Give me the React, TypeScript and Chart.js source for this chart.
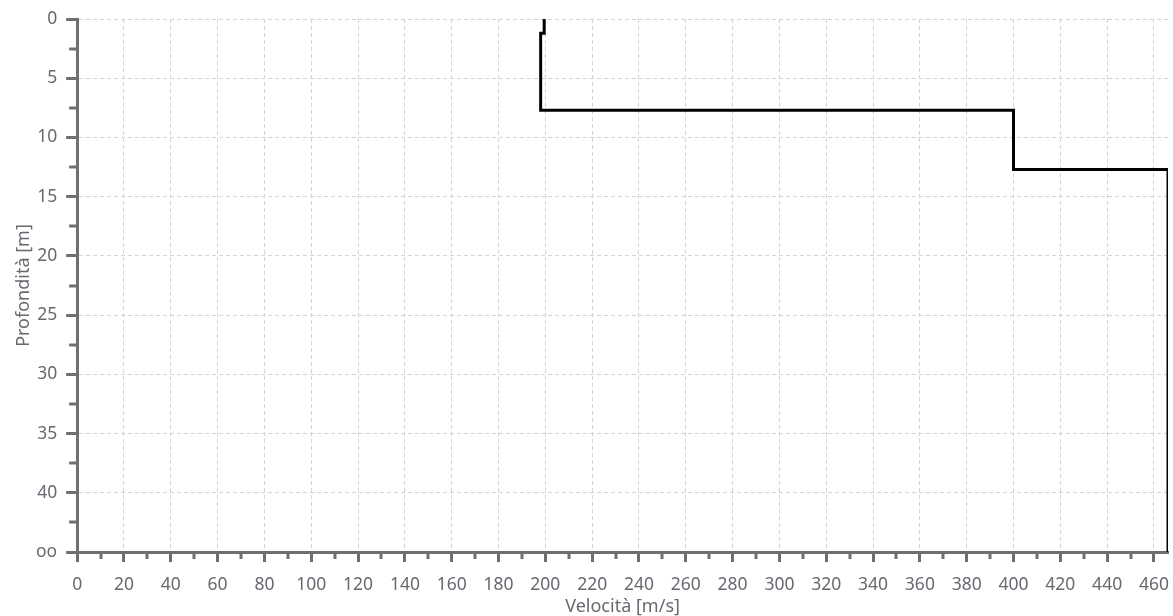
import React, { useEffect, useRef } from "react";
import { Chart, registerables } from "chart.js";

Chart.register(...registerables);

// Data
const velocity = [199.5, 199.5, 198, 198, 400, 400, 466, 466];
const depth = [0, 1.2, 1.2, 7.7, 7.7, 12.7, 12.7, 45];

// Tick values and labels
const xTickValues = [0, 20, 40, 60, 80, 100, 120, 140, 160, 180, 200, 220, 240, 260, 280, 300, 320, 340, 360, 380, 400, 420, 440, 460];
const xMinorTicks = [10, 30, 50, 70, 90, 110, 130, 150, 170, 190, 210, 230, 250, 270, 290, 310, 330, 350, 370, 390, 410, 430, 450];
const yTickValues = [0, 5, 10, 15, 20, 25, 30, 35, 40, 45];
const yTickLabels = ["0", "5", "10", "15", "20", "25", "30", "35", "40", "oo"];
const yMinorTicks = [2.5, 7.5, 12.5, 17.5, 22.5, 27.5, 32.5, 37.5, 42.5];

const X_MIN = 0;
const X_MAX = 466;
const Y_MIN = 0;
const Y_MAX = 45;

const AXIS_COLOR = "#6f6f6f";
const GRID_COLOR = "#d4d4d4";
const TEXT_COLOR = "#666a70";
const FONT = "'Noto Sans', sans-serif";

const minorTicksPlugin = {
  id: "minorTicks",
  afterDraw(chart: any) {
    const { ctx, scales, chartArea } = chart;
    const xs = scales.x;
    const ys = scales.y;
    ctx.save();
    ctx.strokeStyle = AXIS_COLOR;
    ctx.lineWidth = 3;
    ctx.beginPath();
    for (const v of xMinorTicks) {
      const px = Math.round(xs.getPixelForValue(v));
      ctx.moveTo(px, chartArea.bottom);
      ctx.lineTo(px, chartArea.bottom + 7);
    }
    for (const v of yMinorTicks) {
      const py = Math.round(ys.getPixelForValue(v));
      ctx.moveTo(chartArea.left, py);
      ctx.lineTo(chartArea.left - 8, py);
    }
    ctx.stroke();
    ctx.restore();
  },
};

export default function App() {
  const canvasRef = useRef<HTMLCanvasElement | null>(null);

  useEffect(() => {
    document.body.style.margin = "0";
    const canvas = canvasRef.current;
    if (!canvas) return;
    const points = velocity.map((v, i) => ({ x: v, y: depth[i] }));
    const chart = new Chart(canvas, {
      type: "scatter",
      data: {
        datasets: [
          {
            data: points,
            showLine: true,
            borderColor: "#000000",
            borderWidth: 3,
            pointRadius: 0,
            pointHoverRadius: 0,
            fill: false,
            tension: 0,
          },
        ],
      },
      options: {
        animation: false,
        responsive: false,
        maintainAspectRatio: false,
        layout: { autoPadding: false, padding: { left: 0, top: 19, right: 5, bottom: 0 } },
        plugins: {
          legend: { display: false },
          tooltip: { enabled: false },
          title: { display: false },
        },
        scales: {
          x: {
            type: "linear",
            min: X_MIN,
            max: X_MAX,
            afterBuildTicks: (scale: any) => {
              scale.ticks = xTickValues.map((v) => ({ value: v }));
            },
            afterFit: (scale: any) => {
              scale.height = 64;
              scale.paddingLeft = 0;
              scale.paddingRight = 0;
            },
            ticks: {
              autoSkip: false,
              maxRotation: 0,
              color: TEXT_COLOR,
              font: { family: FONT, size: 17.5 },
              padding: 13,
              callback: (v: any) => String(v),
            },
            grid: {
              color: GRID_COLOR,
              lineWidth: 1,
              tickLength: 10,
              tickColor: AXIS_COLOR,
              tickWidth: 3,
              drawTicks: true,
            },
            border: { display: true, color: AXIS_COLOR, width: 3, dash: [4, 3] },
            title: {
              display: true,
              text: "Velocità [m/s]",
              color: TEXT_COLOR,
              font: { family: FONT, size: 18, lineHeight: 1 },
              padding: { top: 0, bottom: 0 },
            },
          },
          y: {
            type: "linear",
            reverse: true,
            min: Y_MIN,
            max: Y_MAX,
            afterBuildTicks: (scale: any) => {
              scale.ticks = yTickValues.map((v) => ({ value: v }));
            },
            afterFit: (scale: any) => {
              scale.paddingTop = 0;
              scale.paddingBottom = 0;
            },
            ticks: {
              autoSkip: false,
              color: TEXT_COLOR,
              font: { family: FONT, size: 17.5 },
              padding: 9,
              callback: (v: any) => {
                const i = yTickValues.indexOf(Number(v));
                return i >= 0 ? yTickLabels[i] : "";
              },
            },
            grid: {
              color: GRID_COLOR,
              lineWidth: 1,
              tickLength: 11,
              tickColor: AXIS_COLOR,
              tickWidth: 3,
              drawTicks: true,
            },
            border: { display: true, color: AXIS_COLOR, width: 3, dash: [4, 3] },
            title: {
              display: true,
              text: "Profondità [m]",
              color: TEXT_COLOR,
              font: { family: FONT, size: 18, lineHeight: 1 },
              padding: { top: 15, bottom: -6 },
            },
          },
        },
      },
      plugins: [minorTicksPlugin],
    } as any);
    return () => chart.destroy();
  }, []);

  return (
    <div style={{ width: 1173, height: 616, position: "relative", background: "#ffffff" }}>
      <canvas ref={canvasRef} width={1173} height={616} style={{ display: "block" }} />
    </div>
  );
}
